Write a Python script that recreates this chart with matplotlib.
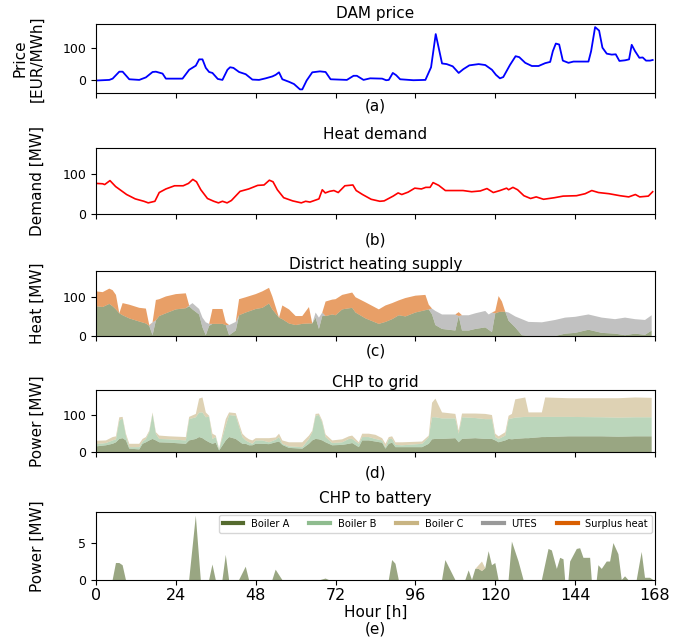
import numpy as np
import matplotlib.pyplot as plt
from matplotlib.lines import Line2D

# --- DAM price (hour, EUR/MWh)
price_hours = [0, 4, 5, 7, 8, 10, 13, 15, 17, 18, 20, 21, 26, 28, 30, 31, 32, 33, 34, 35,
               36.6, 38, 39.5, 40.3, 41.3, 43, 45, 47, 49, 51, 53, 54, 55, 56, 58, 59.5, 61.3, 62, 63.3, 65,
               67.3, 69, 70.5, 75.4, 77.4, 78.4, 80.4, 82.4, 86, 87.2, 88, 89.2, 90.2, 91.4, 95.4, 99, 100.7, 102.1, 104, 105.4,
               107.2, 109, 110.4, 112.2, 115, 117, 119, 120.2, 121.4, 122.4, 124.4, 126.1, 127.2, 129, 131, 133, 135, 136.5, 137.3, 138.2,
               139.2, 140.3, 142, 143.5, 148, 148.8, 150, 151.2, 152.2, 153.5, 155, 156.2, 157.3, 159, 160.2, 161, 162, 163.3, 164.3, 165.3,
               166.5, 167.3]
price = [-2, 0, 4, 26, 26, 2, 0, 8, 25, 26, 20, 4, 4, 32, 45, 65, 65, 38, 25, 22,
         3, 0, 32, 40, 38, 25, 18, 1, 0, 5, 11, 16, 24, 2, -6, -13, -30, -30, -2, 24,
         27, 25, 2, 0, 13, 13, 0, 5, 4, -1, 0, 22, 15, 2, -1, 0, 40, 145, 52, 50,
         43, 22, 34, 46, 50, 47, 32, 16, 5, 9, 47, 75, 72, 54, 44, 44, 53, 57, 91, 115,
         112, 61, 54, 58, 58, 91, 167, 156, 102, 83, 80, 81, 60, 62, 65, 111, 91, 70, 71, 61,
         61, 63]

# --- Heat demand (hour, MW)
demand_hours = [0, 2, 2.6, 4.2, 5.9, 9.2, 11.8, 14.4, 15.7, 17.7, 19, 21, 23.6, 26.2, 27.8, 29.1, 30.2, 31.5, 33.5, 35.4,
                36.8, 38, 39.4, 40.7, 43.3, 45.9, 48.6, 50.5, 52.1, 53.2, 54.5, 56.4, 59.1, 61.7, 63, 64.3, 67, 68, 68.9, 70.2,
                71.5, 72.8, 74.8, 77.2, 78.2, 80.1, 82.7, 85.3, 86.6, 89.3, 90.8, 91.9, 93.8, 95.8, 97.8, 99.1, 100.4, 101.3, 103, 105,
                110.3, 112.9, 115.5, 117.5, 119.4, 121.4, 123.4, 124, 125.3, 126.7, 128.6, 130.6, 132.3, 134.5, 137.8, 140.4, 144.4, 147, 149, 151,
                154.2, 157.5, 160.1, 162.1, 163.4, 166, 167.3]
demand = [77, 76, 74, 84, 69, 49, 38, 32, 28, 32, 54, 63, 71, 71, 77, 87, 81, 61, 39, 32,
          28, 32, 28, 34, 57, 63, 72, 73, 85, 81, 61, 41, 33, 28, 32, 30, 38, 61, 53, 57,
          59, 54, 71, 73, 59, 49, 37, 32, 33, 45, 53, 49, 55, 65, 63, 67, 67, 79, 72, 59,
          59, 56, 58, 64, 54, 59, 65, 61, 67, 61, 46, 39, 43, 37, 41, 45, 46, 51, 59, 54,
          51, 46, 43, 49, 43, 45, 56]

# --- District heating supply (hour, MW)
heat_hours = [0, 2, 4, 5, 6, 7, 8, 10, 13, 15,
              16, 17, 18, 19, 21, 24, 27, 28, 29, 31,
              32, 33, 34, 35, 38, 39, 40, 42, 43, 45,
              48, 50, 52, 53, 55, 56, 58, 60, 62, 64,
              65, 66, 67, 68, 69, 71, 72, 74, 77, 78,
              81, 85, 87, 89, 91, 93, 96, 99, 100, 101,
              102, 104, 108, 109, 110, 112, 114, 117, 118, 119,
              120, 121, 122, 123, 124, 126, 128, 130, 134, 138,
              141, 144, 148, 152, 156, 159, 162, 165, 167]
heat_boiler_a = [76, 74, 82, 76, 68, 58, 53, 45, 37, 32,
                 26, 2, 40, 51, 58, 68, 71, 76, 68, 55,
                 22, 2, 26, 31, 31, 28, 2, 14, 53, 60,
                 69, 72, 83, 68, 47, 43, 32, 28, 31, 32,
                 32, 47, 18, 51, 51, 55, 53, 68, 72, 60,
                 45, 31, 36, 43, 53, 50, 60, 66, 68, 55,
                 28, 18, 14, 51, 14, 14, 18, 22, 16, 10,
                 58, 61, 62, 62, 39, 22, 2, 0, 0, 0,
                 6, 8, 16, 8, 6, 2, 6, 3, 14]
heat_utes = [0, 0, 0, 0, 0, 0, 0, 0, 0, 0,
             0, 33, 0, 0, 0, 0, 0, 2, 16, 14,
             25, 33, 5, 0, 0, 0, 26, 22, 0, 0,
             0, 0, 0, 0, 0, 0, 0, 0, 0, 0,
             0, 13, 29, 9, 0, 0, 0, 0, 0, 0,
             0, 0, 0, 0, 0, 0, 0, 0, 0, 15,
             36, 37, 41, 0, 39, 39, 40, 42, 39, 50,
             0, 0, 0, 0, 21, 28, 41, 36, 35, 41,
             41, 41, 39, 39, 37, 45, 37, 38, 39]
heat_surplus = [38, 38, 39, 41, 37, 0, 31, 35, 35, 38,
                2, 0, 52, 43, 43, 39, 38, 0, 0, 0,
                0, 0, 0, 38, 38, 7, 0, 0, 41, 39,
                38, 42, 40, 33, 0, 35, 36, 23, 20, 42,
                0, 0, 0, 0, 37, 38, 41, 37, 39, 39,
                41, 37, 42, 41, 38, 47, 43, 39, 12, 0,
                0, 0, 0, 10, 0, 0, 0, 0, 0, 0,
                6, 41, 26, 0, 0, 0, 0, 0, 0, 0,
                0, 0, 0, 0, 0, 0, 0, 0, 0]

# --- CHP to grid (hour, MW)
grid_hours = [0, 3, 5, 6, 7, 8, 9, 10, 13, 14,
              15, 16, 17, 18, 19, 22, 27, 28, 30, 31,
              32, 33, 34, 35, 36, 37, 39, 40, 42, 44,
              45, 46, 47, 48, 50, 52, 54, 55, 56, 58,
              62, 64, 65, 66, 67, 68, 69, 71, 74, 76,
              77, 79, 80, 82, 84, 86, 87, 88, 89, 90,
              92, 98, 100, 101, 102, 104, 108, 109, 110, 114,
              117, 119, 120, 121, 123, 124, 125, 126, 129, 130,
              134, 135, 142, 152, 157, 162, 167]
grid_boiler_a = [15, 18, 22, 26, 35, 37, 31, 9, 7, 22,
                 26, 31, 35, 31, 26, 25, 22, 31, 35, 40,
                 37, 31, 26, 22, 25, 4, 31, 40, 35, 22,
                 22, 18, 18, 22, 22, 21, 26, 28, 19, 11,
                 9, 22, 31, 35, 34, 31, 26, 18, 19, 22,
                 24, 13, 31, 31, 28, 25, 9, 22, 25, 13,
                 13, 13, 22, 34, 35, 35, 37, 26, 35, 37,
                 35, 35, 31, 26, 31, 35, 34, 35, 37, 37,
                 40, 40, 42, 42, 41, 42, 42]
grid_boiler_b = [6, 6, 9, 8, 49, 53, 13, 4, 6, 6,
                 9, 22, 67, 18, 9, 9, 9, 57, 58, 66,
                 69, 62, 69, 13, 15, 3, 40, 59, 62, 18,
                 9, 8, 4, 9, 9, 5, 7, 12, 3, 4,
                 4, 13, 22, 62, 65, 48, 14, 6, 7, 13,
                 11, 9, 9, 9, 7, 6, 4, 13, 10, 6,
                 5, 9, 18, 59, 58, 55, 53, 23, 58, 54,
                 53, 53, 9, 9, 13, 53, 56, 57, 57, 57,
                 54, 54, 52, 51, 51, 51, 51]
grid_boiler_c = [9, 7, 9, 8, 9, 4, 5, 9, 9, 7,
                 5, 4, 4, 4, 9, 8, 9, 6, 9, 37,
                 40, 13, 2, 14, 4, 2, 17, 7, 7, 9,
                 9, 8, 9, 6, 6, 11, 6, 9, 9, 11,
                 13, 9, 4, 5, 4, 5, 7, 7, 8, 7,
                 9, 4, 9, 9, 11, 6, 9, 5, 7, 7,
                 8, 6, 4, 39, 50, 16, 12, 8, 10, 12,
                 14, 11, 9, 7, 9, 9, 12, 49, 52, 12,
                 12, 52, 50, 51, 52, 53, 52]

# --- CHP to battery (hour, MW)
batt_hours = [0, 5, 6, 7, 8, 9, 28, 30, 31.5, 34,
              35, 36, 38, 39, 40, 43, 45, 46, 53, 54,
              56, 67.5, 69, 70, 88, 89, 90, 91, 104, 105,
              108, 111, 112, 113, 114, 115, 116, 117, 118, 119,
              120, 121, 124, 125, 127, 128.5, 134, 136, 137, 138.5,
              139.5, 140.5, 141, 142, 142.5, 144.5, 145.5, 146.5, 148.5, 149,
              150.5, 151, 152, 153.5, 154.5, 155.5, 157, 158, 159, 160,
              162.5, 164, 165, 166.5, 167.5, 168]
batt_boiler_a = [0, 0, 2.3, 2.3, 2.0, 0, 0, 8.7, 0, 0,
                 2.1, 0, 0, 3.4, 0, 0, 1.8, 0, 0, 1.4,
                 0, 0, 0.2, 0, 0, 2.7, 2.2, 0, 0, 2.7,
                 0, 0, 1.3, 0, 1.5, 1.5, 1.2, 1.6, 3.9, 2.0,
                 2.3, 0, 0, 5.2, 2.5, 0, 0, 4.2, 4.0, 1.5,
                 3.0, 2.8, 0, 0, 2.5, 4.2, 4.3, 3.0, 3.0, 0,
                 0, 2.0, 1.5, 2.5, 2.5, 5.0, 3.5, 0, 0.5, 0,
                 0, 3.8, 0.3, 0.3, 0, 0]
batt_boiler_c = [0, 0, 0, 0, 0, 0, 0, 0, 0, 0,
                 0, 0, 0, 0, 0, 0, 0, 0, 0, 0,
                 0, 0, 0, 0, 0, 0, 0, 0, 0, 0,
                 0, 0, 0, 0, 0, 0.5, 1.3, 0, 0, 0,
                 0, 0, 0, 0, 0, 0, 0, 0, 0, 0,
                 0, 0, 0, 0, 0, 0, 0, 0, 0, 0,
                 0, 0, 0, 0, 0, 0, 0, 0, 0, 0,
                 0, 0, 0, 0, 0, 0]

legend_labels = ['Boiler A', 'Boiler B', 'Boiler C', 'UTES', 'Surplus heat']
col = {'Boiler A': '#556b2f', 'Boiler B': '#8fbc8f', 'Boiler C': '#c8b482',
       'UTES': '#999999', 'Surplus heat': '#d95f02'}
alpha = 0.6

fig = plt.figure(figsize=(6.84, 6.41), dpi=100)
W_PX, H_PX = 684, 641


def add_panel(top, bottom):
    return fig.add_axes([96 / W_PX, 1 - bottom / H_PX, 559 / W_PX, (bottom - top) / H_PX])


ax_a = add_panel(24, 92.5)
ax_b = add_panel(148, 214)
ax_c = add_panel(271, 336)
ax_d = add_panel(390, 452)
ax_e = add_panel(512, 580)

ax_a.plot(price_hours, price, color='blue', lw=1.3)
ax_a.set_title('DAM price', fontsize=11, pad=4)
ax_a.set_ylabel('Price\n[EUR/MWh]', fontsize=11)
ax_a.set_yticks([0, 100])

ax_b.plot(demand_hours, demand, color='red', lw=1.2)
ax_b.set_title('Heat demand', fontsize=11, pad=6.5)
ax_b.set_ylabel('Demand [MW]', fontsize=11)

ax_c.stackplot(heat_hours, heat_boiler_a, heat_utes, heat_surplus,
               colors=[col['Boiler A'], col['UTES'], col['Surplus heat']], alpha=alpha, lw=0)
ax_c.set_title('District heating supply', fontsize=11, pad=1.5)
ax_c.set_ylabel('Heat [MW]', fontsize=11)

ax_d.stackplot(grid_hours, grid_boiler_a, grid_boiler_b, grid_boiler_c,
               colors=[col['Boiler A'], col['Boiler B'], col['Boiler C']], alpha=alpha, lw=0)
ax_d.set_title('CHP to grid', fontsize=11, pad=2.5)
ax_d.set_ylabel('Power [MW]', fontsize=11)

ax_e.stackplot(batt_hours, batt_boiler_a, batt_boiler_c,
               colors=[col['Boiler A'], col['Boiler C']], alpha=alpha, lw=0)
ax_e.set_title('CHP to battery', fontsize=11, pad=6.5)
ax_e.set_ylabel('Power [MW]', fontsize=11)
ax_e.set_ylim(0, 9.2)
ax_e.set_yticks([0, 5])

for ax in (ax_b, ax_c, ax_d):
    ax.set_ylim(0, 166)
    ax.set_yticks([0, 100])

for ax, lab, pad in zip((ax_a, ax_b, ax_c, ax_d), ['(a)', '(b)', '(c)', '(d)'], [0.5, 10, 2, 6]):
    ax.set_xlabel(lab, fontsize=11, labelpad=pad)
    ax.tick_params(axis='x', labelbottom=False)

for ax in (ax_a, ax_b, ax_c, ax_d, ax_e):
    ax.set_xlim(0, 168)
    ax.set_xticks(np.arange(0, 169, 24))
    ax.tick_params(axis='y', labelsize=9)
    ax.yaxis.set_label_coords(-51 / 559, 0.5)

ax_e.tick_params(axis='x', labelsize=11.5, pad=2)
ax_e.set_xlabel('Hour [h]\n(e)', fontsize=11, linespacing=1.15, labelpad=1.5)

handles = [Line2D([], [], color=col[k], lw=3) for k in legend_labels]
ax_e.legend(handles, legend_labels, loc='upper right', ncol=5, fontsize=7.1,
            handlelength=2.1, borderaxespad=0.3)

fig.savefig('out.png', dpi=100)
